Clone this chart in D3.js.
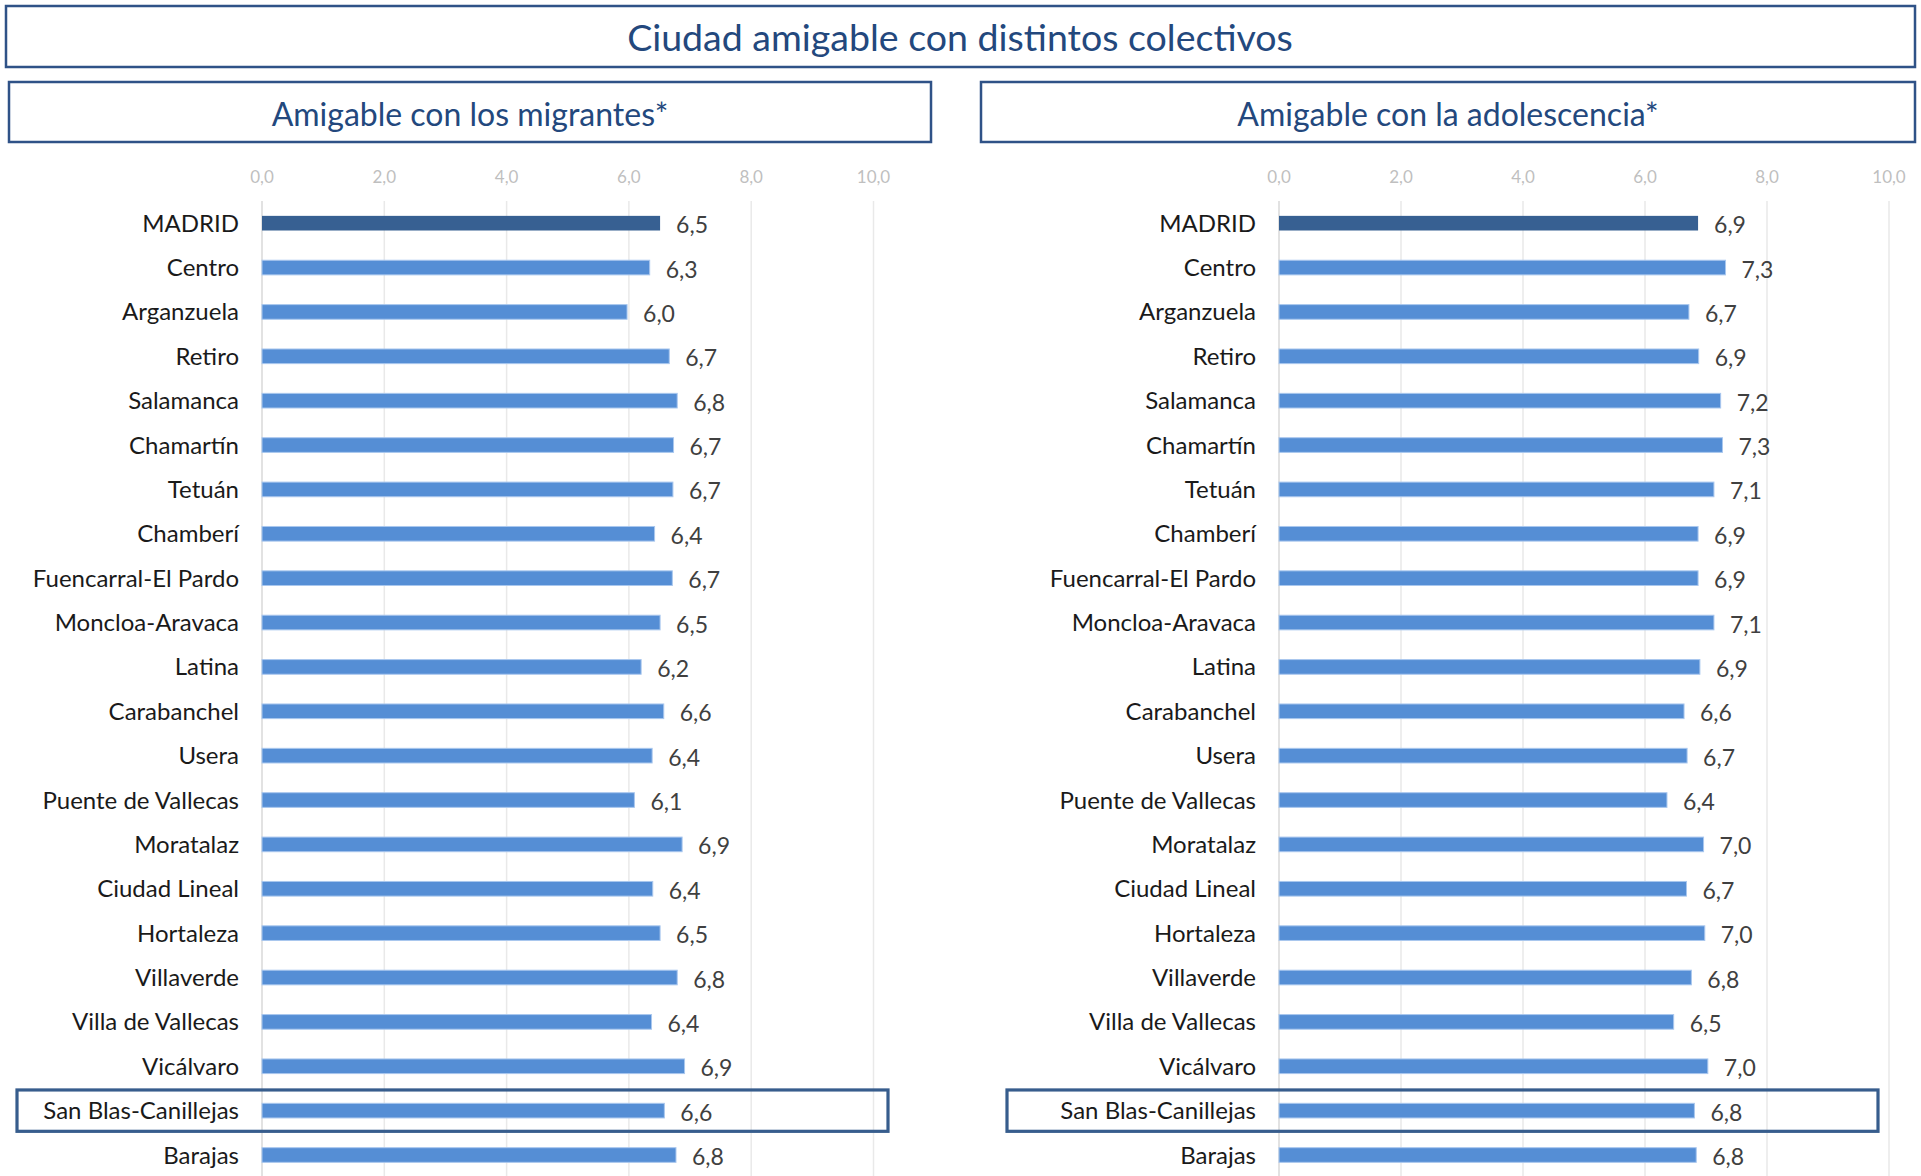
<!DOCTYPE html>
<html lang="es">
<head>
<meta charset="utf-8">
<title>Ciudad amigable con distintos colectivos</title>
<script src="https://cdn.jsdelivr.net/npm/d3@7"></script>
<style>
  body { margin: 0; background: #fff; }
  svg { display: block; font-family: Lato, "Open Sans", sans-serif; }
  .box { fill: none; stroke: #2f5287; stroke-width: 2.5; }
  .ttl { fill: #23487d; text-anchor: middle; }
  .grid line { stroke: #e9e9e9; stroke-width: 1.5; }
  .tick-lbl { fill: #bfbfbf; font-size: 17px; text-anchor: middle; }
  .cat { fill: #1a1a1a; font-size: 24px; text-anchor: end; }
  .val { fill: #404040; font-size: 23px; }
  .bar { stroke: #a9c7ee; stroke-width: 1; }
  .hl { fill: none; stroke: #375d8d; stroke-width: 3.2; }
</style>
</head>
<body>
<script>
var W = 1921, H = 1176;

// datos
var districts = ['MADRID', 'Centro', 'Arganzuela', 'Retiro', 'Salamanca', 'Chamartín', 'Tetuán',
  'Chamberí', 'Fuencarral-El Pardo', 'Moncloa-Aravaca', 'Latina', 'Carabanchel', 'Usera',
  'Puente de Vallecas', 'Moratalaz', 'Ciudad Lineal', 'Hortaleza', 'Villaverde',
  'Villa de Vallecas', 'Vicálvaro', 'San Blas-Canillejas', 'Barajas'];
var migrantes = [6.51, 6.34, 5.97, 6.66, 6.79, 6.73, 6.72, 6.42, 6.71, 6.51, 6.20, 6.57, 6.38,
  6.09, 6.87, 6.39, 6.51, 6.79, 6.37, 6.91, 6.58, 6.77];
var adolescencia = [6.87, 7.32, 6.72, 6.88, 7.24, 7.27, 7.13, 6.87, 6.87, 7.13, 6.90, 6.64, 6.69,
  6.36, 6.96, 6.68, 6.98, 6.76, 6.47, 7.03, 6.81, 6.84];
var tickValues = [0, 2, 4, 6, 8, 10];
var mainTitle = 'Ciudad amigable con distintos colectivos';
var panelTitles = ['Amigable con los migrantes*', 'Amigable con la adolescencia*'];
var highlight = 'San Blas-Canillejas';

var fmt = function(v) { return d3.format('.1f')(v).replace('.', ','); };

var svg = d3.select('body').append('svg')
    .attr('width', W)
    .attr('height', H);

// titulo general
svg.append('rect').attr('class', 'box')
    .attr('x', 6).attr('y', 6).attr('width', 1909).attr('height', 61);
svg.append('text').attr('class', 'ttl')
    .attr('x', 960).attr('y', 51)
    .style('font-size', '37.5px')
    .text(mainTitle);

var y = d3.scaleBand().domain(districts).range([201, 1177.2]).paddingInner(0.67).paddingOuter(0.335);

var panels = [
  {title: panelTitles[0], values: migrantes, box: [9, 931], x: [262, 873.5], hl: [17, 888]},
  {title: panelTitles[1], values: adolescencia, box: [981, 1915], x: [1279, 1889], hl: [1007, 1878]}
];

panels.forEach(function(p) {
  var g = svg.append('g');
  g.append('rect').attr('class', 'box')
      .attr('x', p.box[0]).attr('y', 82)
      .attr('width', p.box[1] - p.box[0]).attr('height', 60);
  g.append('text').attr('class', 'ttl')
      .attr('x', (p.box[0] + p.box[1]) / 2).attr('y', 125.5)
      .style('font-size', '32px')
      .text(p.title);

  var x = d3.scaleLinear().domain([0, 10]).range(p.x);

  g.append('g').attr('class', 'grid')
    .selectAll('line')
      .data(tickValues)
    .enter().append('line')
      .attr('x1', function(d) { return x(d); })
      .attr('x2', function(d) { return x(d); })
      .attr('y1', 201).attr('y2', H)
      .style('stroke', function(d) { return d === 0 ? '#d9d9d9' : null; });

  g.selectAll('.tick-lbl')
      .data(tickValues)
    .enter().append('text')
      .attr('class', 'tick-lbl')
      .attr('x', function(d) { return x(d); })
      .attr('y', 183)
      .text(fmt);

  var rows = g.selectAll('.row')
      .data(districts.map(function(d, i) { return {name: d, v: p.values[i]}; }))
    .enter().append('g')
      .attr('class', 'row');

  rows.append('rect').attr('class', 'bar')
      .attr('x', x(0))
      .attr('y', function(d) { return y(d.name); })
      .attr('width', function(d) { return x(d.v) - x(0); })
      .attr('height', y.bandwidth())
      .style('fill', function(d) { return d.name === 'MADRID' ? '#376092' : '#558ed5'; })
      .style('stroke', function(d) { return d.name === 'MADRID' ? 'none' : null; });

  rows.append('text').attr('class', 'cat')
      .attr('x', x(0) - 23)
      .attr('y', function(d) { return y(d.name) + y.bandwidth() / 2 + 8.5; })
      .text(function(d) { return d.name; });

  rows.append('text').attr('class', 'val')
      .attr('x', function(d) { return x(d.v) + 16; })
      .attr('y', function(d) { return y(d.name) + y.bandwidth() / 2 + 10; })
      .text(function(d) { return fmt(d.v); });

  var step = y.step();
  var yc = y(highlight) + y.bandwidth() / 2;
  g.append('rect').attr('class', 'hl')
      .attr('x', p.hl[0]).attr('y', yc - step * 0.466)
      .attr('width', p.hl[1] - p.hl[0]).attr('height', step * 0.932);
});
</script>
</body>
</html>
